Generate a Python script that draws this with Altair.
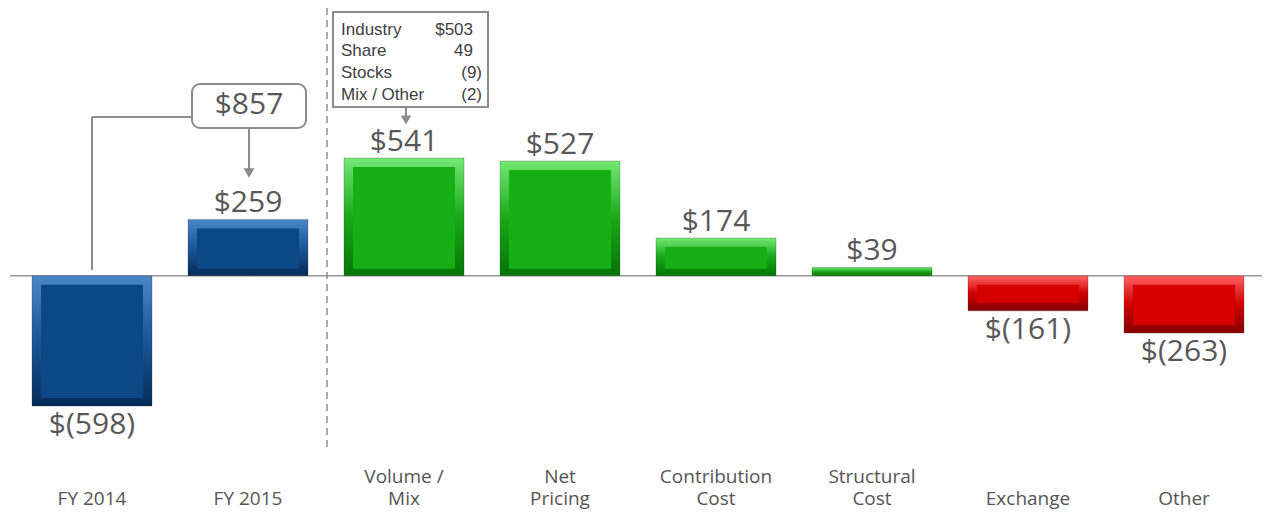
import altair as alt
import pandas as pd

# ---------------- data ----------------
categories = ["FY 2014", "FY 2015", "Volume /\nMix", "Net\nPricing",
              "Contribution\nCost", "Structural\nCost", "Exchange", "Other"]
values = [-598, 259, 541, 527, 174, 39, -161, -263]
kinds = ["total", "total", "up", "up", "up", "up", "down", "down"]

box_items = ["Industry", "Share", "Stocks", "Mix / Other"]
box_values = ["$503", "49", "(9)", "(2)"]
change_label = "$857"


def fmt(v):
    return f"${v}" if v >= 0 else f"$({-v})"


df = pd.DataFrame({
    "category": categories,
    "value": values,
    "kind": kinds,
    "label": [fmt(v) for v in values],
    "zero": [0] * len(values),
})

one = pd.DataFrame({"zero": [0]})

# ---------------- styling ----------------
VAL_FONT = "Open Sans"
LBL_FONT = "Open Sans"
BOX_FONT = "Liberation Sans"
GREY = "#8c8c8c"
TXT = "#585858"

xscale = alt.Scale(domain=categories, paddingInner=0.2308, paddingOuter=0.1154)
yscale = alt.Scale(domain=[-800, 1230], nice=False, zero=False)

x_enc = alt.X("category:N", sort=categories, scale=xscale,
              axis=alt.Axis(title=None, domain=False, ticks=False, grid=False,
                            labelAngle=0, labelExpr="split(datum.label, '\\n')",
                            labelFont=LBL_FONT, labelFontSize=19, labelColor="#555555",
                            labelBaseline="bottom", labelLineHeight=22,
                            labelPadding={"condition": {"test": "indexof(datum.label, '\\n') < 0",
                                                        "value": 58},
                                          "value": 36},
                            labelLimit=300))
y_enc = alt.Y("value:Q", scale=yscale, axis=None)
y2_enc = alt.Y2("zero:Q")


def grad(stops):
    return alt.Gradient(gradient="linear", x1=0, y1=0, x2=0, y2=1,
                        stops=[alt.GradientStop(offset=o, color=c) for o, c in stops])


outer_grads = {
    "total": grad([(0, "#4a86c8"), (0.5, "#1a5697"), (1, "#052c58")]),
    "up": grad([(0, "#74e874"), (0.5, "#19a919"), (1, "#057505")]),
    "down": grad([(0, "#ff6060"), (0.5, "#cf0000"), (1, "#850000")]),
}

base = alt.Chart(df)

zero_line = alt.Chart(one).mark_rule(color="#9a9a9a", strokeWidth=1.5).encode(
    x=alt.value(-4), x2=alt.value(1248), y=alt.Y("zero:Q", scale=yscale, axis=None))

dash_line = alt.Chart(one).mark_rule(color="#7a7a7a", strokeWidth=1.3,
                                     strokeDash=[7, 5]).encode(
    x=alt.value(313), y=alt.value(0), y2=alt.value(439))

outer_layers = []
for k, g in outer_grads.items():
    outer_layers.append(
        base.transform_filter(alt.datum.kind == k)
        .mark_bar(fill=g, stroke="#333333", strokeOpacity=0.25, strokeWidth=1)
        .encode(x=x_enc, y=y_enc, y2=y2_enc)
    )

inner_color = alt.Color("kind:N", scale=alt.Scale(domain=["total", "up", "down"],
                                                  range=["#0d4886", "#16b016", "#d60000"]),
                        legend=None)

inner_pos = base.transform_filter(alt.datum.value > 60).mark_bar(
    size=102, yOffset=9, y2Offset=-7).encode(
    x=x_enc, y=y_enc, y2=y2_enc, color=inner_color)

inner_neg = base.transform_filter(alt.datum.value < -60).mark_bar(
    size=102, yOffset=-8, y2Offset=9).encode(
    x=x_enc, y=y_enc, y2=y2_enc, color=inner_color)

lbl_pos = base.transform_filter(alt.datum.value >= 0).mark_text(
    font=VAL_FONT, fontSize=30, color=TXT, baseline="bottom", dy=-1).encode(
    x=x_enc, y=y_enc, text="label:N")

lbl_neg = base.transform_filter(alt.datum.value < 0).mark_text(
    font=VAL_FONT, fontSize=30, color=TXT, baseline="top", dy=4).encode(
    x=x_enc, y=y_enc, text="label:N")

# ---- $857 annotation ----
conn_h = alt.Chart(one).mark_rule(color=GREY, strokeWidth=2).encode(
    x=alt.value(78), x2=alt.value(178), y=alt.value(109))
conn_v = alt.Chart(one).mark_rule(color=GREY, strokeWidth=2).encode(
    x=alt.value(78), y=alt.value(109), y2=alt.value(262))
box857 = alt.Chart(one).mark_rect(fill="white", stroke=GREY, strokeWidth=2,
                                  cornerRadius=8).encode(
    x=alt.value(178), x2=alt.value(292), y=alt.value(76), y2=alt.value(120))
txt857 = alt.Chart(pd.DataFrame({"t": [change_label]})).mark_text(
    font=VAL_FONT, fontSize=30, color=TXT, baseline="middle").encode(
    x=alt.value(235), y=alt.value(97), text="t:N")
arrow857 = alt.Chart(one).mark_rule(color=GREY, strokeWidth=2).encode(
    x=alt.value(235), y=alt.value(120), y2=alt.value(162))
head857 = alt.Chart(one).mark_point(shape="triangle-down", filled=True, size=120,
                                    color=GREY, opacity=1).encode(
    x=alt.value(235), y=alt.value(165))

# ---- industry box annotation ----
ind_box = alt.Chart(one).mark_rect(fill="white", stroke=GREY, strokeWidth=2).encode(
    x=alt.value(319), x2=alt.value(474), y=alt.value(4), y2=alt.value(99))

box_layers = []
for i, (item, val) in enumerate(zip(box_items, box_values)):
    row = alt.Chart(pd.DataFrame({"item": [item], "val": [val]}))
    yy = 21.5 + i * 21.7
    box_layers.append(row.mark_text(font=BOX_FONT, fontSize=17, color="#404040",
                                    align="left", baseline="middle").encode(
        x=alt.value(327), y=alt.value(yy), text="item:N"))
    box_layers.append(row.mark_text(font=BOX_FONT, fontSize=17, color="#404040",
                                    align="right", baseline="middle").encode(
        x=alt.value(468 if val.startswith("(") else 459), y=alt.value(yy), text="val:N"))

ind_arrow = alt.Chart(one).mark_rule(color=GREY, strokeWidth=2).encode(
    x=alt.value(392), y=alt.value(99), y2=alt.value(110))
ind_head = alt.Chart(one).mark_point(shape="triangle-down", filled=True, size=110,
                                     color=GREY, opacity=1).encode(
    x=alt.value(392), y=alt.value(112))

chart = alt.layer(
    zero_line, dash_line,
    *outer_layers, inner_pos, inner_neg,
    lbl_pos, lbl_neg,
    conn_h, conn_v, box857, txt857, arrow857, head857,
    ind_box, *box_layers, ind_arrow, ind_head,
).properties(
    width=1248, height=442,
    padding={"left": 6, "top": 0, "right": 5, "bottom": 60},
    autosize=alt.AutoSizeParams(type="none"),
).configure_view(strokeWidth=0).configure_axis(grid=False)

chart.save("out.html", embed_options={"renderer": "svg", "actions": False})
